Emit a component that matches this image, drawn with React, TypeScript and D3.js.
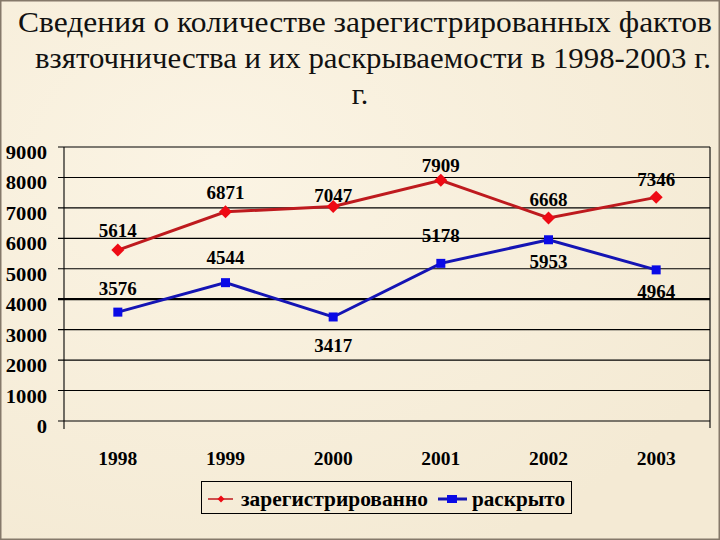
import React from 'react';
import * as d3 from 'd3';

const years = ['1998', '1999', '2000', '2001', '2002', '2003'];
const registered = [5614, 6871, 7047, 7909, 6668, 7346];
const solved = [3576, 4544, 3417, 5178, 5953, 4964];
const yTicks = [0, 1000, 2000, 3000, 4000, 5000, 6000, 7000, 8000, 9000];
const seriesNames = ['зарегистрированно', 'раскрыто'];
const titleLines = [
  'Сведения о количестве зарегистрированных фактов',
  'взяточничества и их раскрываемости в 1998-2003 г.',
  'г.',
];

// label placement offsets (layout only)
const regLabelDy = [-13, -13, -4, -8, -12, -11];
const solLabelDy = [-17, -19, 35, -21, 28, 28];
const titleLayout = [
  { cx: 365, len: 694 },
  { cx: 373, len: 676 },
  { cx: 360, len: 0 },
];

const W = 720;
const H = 540;
const plot = { left: 64, right: 710, top: 147, bottom: 421 };

const font = "'Liberation Serif', 'DejaVu Serif', 'Times New Roman', serif";

export default function App() {
  const x = d3.scaleBand().domain(years).range([plot.left, plot.right]);
  const cx = (d: string) => (x(d) as number) + x.bandwidth() / 2;
  const y = d3.scaleLinear().domain([0, 9000]).range([plot.bottom, plot.top]);

  const line = d3
    .line<number>()
    .x((_, i) => cx(years[i]))
    .y((d) => y(d));

  const diamond = 'M0,-6.5L6.5,0L0,6.5L-6.5,0Z';
  const smallDiamond = 'M0,-3.5L3.5,0L0,3.5L-3.5,0Z';

  return (
    <svg
      width={W}
      height={H}
      style={{ position: 'absolute', left: 0, top: 0, fontFamily: font }}
    >
      <defs>
        <radialGradient id="bg1" cx="0.3" cy="0.3" r="0.8">
          <stop offset="0" stopColor="#fbf4e4" />
          <stop offset="1" stopColor="#f4ead4" />
        </radialGradient>
      </defs>
      <rect x={0} y={0} width={W} height={H} fill="url(#bg1)" />
      <rect x={0.75} y={0.75} width={W - 1.5} height={H - 1.5} fill="none" stroke="#85796a" strokeWidth={1.5} />

      {/* title */}
      {titleLines.map((t, i) => (
        <text
          key={i}
          x={titleLayout[i].cx}
          y={32 + i * 36}
          textAnchor="middle"
          fontSize={30}
          fill="#111"
          {...(titleLayout[i].len
            ? { textLength: titleLayout[i].len, lengthAdjust: 'spacingAndGlyphs' }
            : {})}
        >
          {t}
        </text>
      ))}

      {/* gridlines */}
      {yTicks.map((t) => (
        <g key={t}>
          <line
            x1={plot.left - 6}
            x2={plot.right}
            y1={y(t)}
            y2={y(t)}
            stroke="#000"
            strokeWidth={t === 4000 ? 2.2 : 1.1}
          />
          <text
            x={47}
            y={y(t) + 12}
            textAnchor="end"
            fontSize={18}
            fontWeight="bold"
            fill="#000"
            textLength={String(t).length * 10.3}
            lengthAdjust="spacingAndGlyphs"
          >
            {t}
          </text>
        </g>
      ))}
      <line x1={plot.left} x2={plot.left} y1={plot.top} y2={plot.bottom + 8} stroke="#000" strokeWidth={1.1} />
      <line x1={plot.right} x2={plot.right} y1={plot.top} y2={plot.bottom + 7} stroke="#000" strokeWidth={1.1} />

      {/* x labels */}
      {years.map((yr) => (
        <text key={yr} x={cx(yr)} y={465} textAnchor="middle" fontSize={19.5} fontWeight="bold" fill="#000">
          {yr}
        </text>
      ))}

      {/* series lines */}
      <path d={line(registered) as string} fill="none" stroke="#be1a1e" strokeWidth={3} />
      <path d={line(solved) as string} fill="none" stroke="#1414b4" strokeWidth={3} />

      {registered.map((v, i) => (
        <path key={'r' + i} d={diamond} transform={`translate(${cx(years[i])},${y(v)})`} fill="#ee0a14" />
      ))}
      {solved.map((v, i) => (
        <rect key={'s' + i} x={cx(years[i]) - 4.5} y={y(v) - 4.5} width={9} height={9} fill="#0a0ae6" />
      ))}

      {/* data labels */}
      {registered.map((v, i) => (
        <text
          key={'rl' + i}
          x={cx(years[i])}
          y={y(v) + regLabelDy[i]}
          textAnchor="middle"
          fontSize={19}
          fontWeight="bold"
          fill="#000"
        >
          {v}
        </text>
      ))}
      {solved.map((v, i) => (
        <text
          key={'sl' + i}
          x={cx(years[i])}
          y={y(v) + solLabelDy[i]}
          textAnchor="middle"
          fontSize={19}
          fontWeight="bold"
          fill="#000"
        >
          {v}
        </text>
      ))}

      {/* legend */}
      <rect x={201.5} y={481.5} width={370} height={32} fill="none" stroke="#000" strokeWidth={1} />
      <line x1={208} x2={233} y1={499} y2={499} stroke="#be1a1e" strokeWidth={1.5} />
      <path d={smallDiamond} transform="translate(221,499)" fill="#ee0a14" />
      <text x={241} y={506} fontSize={20} fontWeight="bold" fill="#000" textLength={187} lengthAdjust="spacingAndGlyphs">
        {seriesNames[0]}
      </text>
      <line x1={438} x2={467} y1={499} y2={499} stroke="#1414b4" strokeWidth={3} />
      <rect x={447} y={495} width={10} height={8} fill="#0a0ae6" />
      <text x={472} y={506} fontSize={20} fontWeight="bold" fill="#000" textLength={93} lengthAdjust="spacingAndGlyphs">
        {seriesNames[1]}
      </text>
    </svg>
  );
}
